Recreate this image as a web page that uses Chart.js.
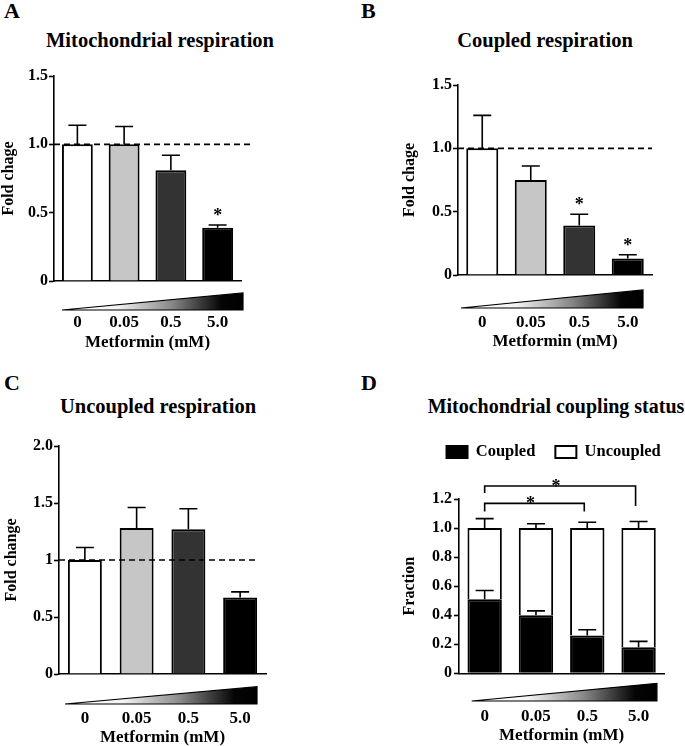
<!DOCTYPE html>
<html>
<head>
<meta charset="utf-8">
<script src="https://cdn.jsdelivr.net/npm/chart.js@4.4.1/dist/chart.umd.min.js"></script>
<style>
  html, body { margin: 0; padding: 0; background: #fff; overflow: hidden; }
  body { width: 685px; height: 746px; position: relative; font-family: 'Liberation Serif', 'Times New Roman', serif; font-weight: bold; color: #000; }
  canvas, .txt { position: absolute; }
  .letter { font-size: 22px; line-height: 22px; }
  .title { font-size: 20.5px; line-height: 20px; width: 400px; text-align: center; white-space: nowrap; }
</style>
</head>
<body>
<div class="txt letter" style="left:4px;top:0px">A</div>
<div class="txt letter" style="left:361px;top:0px">B</div>
<div class="txt letter" style="left:4px;top:372px">C</div>
<div class="txt letter" style="left:361px;top:372px">D</div>
<div class="txt title" style="left:-40px;top:30px">Mitochondrial respiration</div>
<div class="txt title" style="left:345px;top:30px">Coupled respiration</div>
<div class="txt title" style="left:-42px;top:396px">Uncoupled respiration</div>
<div class="txt title" style="left:356px;top:396px;font-size:20px">Mitochondrial coupling status</div>

<canvas id="chartA" width="342" height="370" style="left:0;top:0"></canvas>
<canvas id="chartB" width="343" height="370" style="left:342px;top:0"></canvas>
<canvas id="chartC" width="342" height="380" style="left:0;top:370px"></canvas>
<canvas id="chartD" width="343" height="380" style="left:342px;top:370px"></canvas>

<script>
// values
const doses = ['0', '0.05', '0.5', '5.0'];

const mitoResp = [1.00, 1.00, 0.81, 0.39];
const mitoErr = [0.14, 0.13, 0.11, 0.02];
const mitoStars = [0, 0, 0, 1];

const coupledResp = [1.00, 0.75, 0.39, 0.13];
const coupledErr = [0.26, 0.11, 0.09, 0.03];
const coupledStars = [0, 0, 1, 1];

const uncoupledResp = [1.00, 1.28, 1.27, 0.67];
const uncoupledErr = [0.11, 0.18, 0.18, 0.05];

const fracCoupled = [0.51, 0.40, 0.26, 0.18];
const fracCoupledErr = [0.06, 0.03, 0.04, 0.04];
const fracUncoupled = [0.49, 0.60, 0.74, 0.82];
const fracUncoupledErr = [0.065, 0.03, 0.04, 0.045];
const fracSig = [[0, 2], [0, 3]];

const ticksA = ['0', '0.5', '1.0', '1.5'];
const ticksB = ['0', '0.5', '1.0', '1.5'];
const ticksC = ['0', '0.5', '1', '1.5', '2.0'];
const ticksD = ['0', '0.2', '0.4', '0.6', '0.8', '1.0', '1.2'];

const FONT = "'Liberation Serif', 'Times New Roman', serif";
Chart.defaults.font.family = FONT;
Chart.defaults.font.weight = 'bold';
Chart.defaults.color = '#000';

const fills = ['#ffffff', '#c6c6c6', '#333333', '#000000'];

// error bars (upward only) + significance stars
const errorBars = {
  id: 'errorBars',
  afterDatasetsDraw(chart) {
    const ctx = chart.ctx, y = chart.scales.y;
    chart.data.datasets.forEach((ds, di) => {
      if (!ds.errors) return;
      chart.getDatasetMeta(di).data.forEach((bar, i) => {
        const top = y.getPixelForValue(y.getValueForPixel(bar.y) + ds.errors[i]);
        ctx.save();
        ctx.strokeStyle = '#000';
        ctx.lineWidth = 1.6;
        ctx.beginPath();
        ctx.moveTo(bar.x, bar.y);
        ctx.lineTo(bar.x, top);
        ctx.moveTo(bar.x - 9, top);
        ctx.lineTo(bar.x + 9, top);
        ctx.stroke();
        if (ds.stars && ds.stars[i]) {
          ctx.fillStyle = '#000';
          ctx.font = 'bold 18px ' + FONT;
          ctx.textAlign = 'center';
          ctx.textBaseline = 'alphabetic';
          ctx.fillText('*', bar.x, top - 4);
        }
        ctx.restore();
      });
    });
  }
};

// dashed line at control level
const refLine = {
  id: 'refLine',
  afterDatasetsDraw(chart, args, opts) {
    if (opts.value == null) return;
    const ctx = chart.ctx, a = chart.chartArea;
    const py = chart.scales.y.getPixelForValue(opts.value);
    ctx.save();
    ctx.strokeStyle = '#000';
    ctx.lineWidth = 1.6;
    ctx.setLineDash([6, 4]);
    ctx.beginPath();
    ctx.moveTo(a.left, py);
    ctx.lineTo(a.right + opts.extend, py);
    ctx.stroke();
    ctx.restore();
  }
};

// dose wedge under the x axis
const wedge = {
  id: 'wedge',
  afterDraw(chart, args, o) {
    if (o.l == null) return;
    const ctx = chart.ctx, a = chart.chartArea;
    const x0 = a.left + o.l, x1 = a.right + o.r, y0 = a.bottom + o.t, y1 = a.bottom + o.b;
    const g = ctx.createLinearGradient(x0, 0, x1, 0);
    g.addColorStop(0, '#ffffff');
    g.addColorStop(0.3, '#f4f4f4');
    g.addColorStop(0.6, '#8a8a8a');
    g.addColorStop(0.88, '#050505');
    g.addColorStop(1, '#000000');
    ctx.save();
    ctx.beginPath();
    ctx.moveTo(x0, y1);
    ctx.lineTo(x1, y0);
    ctx.lineTo(x1, y1);
    ctx.closePath();
    ctx.fillStyle = g;
    ctx.fill();
    ctx.strokeStyle = '#000';
    ctx.lineWidth = 1.2;
    ctx.stroke();
    ctx.restore();
  }
};

// significance brackets (panel D)
const brackets = {
  id: 'brackets',
  afterDraw(chart, args, o) {
    if (!o.pairs) return;
    const ctx = chart.ctx, x = chart.scales.x, y = chart.scales.y;
    o.pairs.forEach((p, k) => {
      const xa = x.getPixelForValue(p[0]), xb = x.getPixelForValue(p[1]) - 3;
      const py = y.getPixelForValue(o.levels[k]);
      ctx.save();
      ctx.strokeStyle = '#000';
      ctx.lineWidth = 1.6;
      ctx.beginPath();
      ctx.moveTo(xa, py + o.legs[k][0]);
      ctx.lineTo(xa, py);
      ctx.lineTo(xb, py);
      ctx.lineTo(xb, py + o.legs[k][1]);
      ctx.stroke();
      ctx.fillStyle = '#000';
      ctx.font = 'bold 18px ' + FONT;
      ctx.textAlign = 'center';
      ctx.fillText('*', (xa + xb) / 2 - 4, py + 1);
      ctx.restore();
    });
  }
};

function yAxis(max, step, labels, title, width, tickPad, titlePad) {
  return {
    min: 0, max: max,
    ticks: { stepSize: step, padding: tickPad, font: { size: 16, weight: 'bold' }, callback: (v, i) => labels[i] },
    grid: { drawOnChartArea: false, drawTicks: true, tickLength: 5, tickColor: '#000', tickWidth: 1.6 },
    border: { display: true, color: '#000', width: 1.6 },
    title: { display: true, text: title, font: { size: 16, weight: 'bold' }, padding: { top: titlePad, bottom: 0 } },
    afterFit: s => { s.width = width; }
  };
}

function xAxis(height, tickPad, titlePad) {
  return {
    grid: { display: false, drawTicks: false },
    border: { display: true, color: '#000', width: 1.6 },
    ticks: { padding: tickPad, font: { size: 17, weight: 'bold' } },
    title: { display: true, text: 'Metformin (mM)', font: { size: 17, weight: 'bold' }, padding: { top: 0, bottom: titlePad } },
    afterFit: s => { s.height = height; }
  };
}

function simpleBar(id, values, errors, stars, pad, yOpts, xOpts, barPct, ref, wedgeOpts) {
  new Chart(document.getElementById(id), {
    type: 'bar',
    data: {
      labels: doses,
      datasets: [{
        data: values,
        errors: errors,
        stars: stars,
        backgroundColor: fills,
        borderColor: '#000',
        borderWidth: 2,
        barPercentage: barPct,
        categoryPercentage: 1
      }]
    },
    options: {
      responsive: false,
      animation: false,
      layout: { padding: pad },
      plugins: {
        legend: { display: false },
        tooltip: { enabled: false },
        refLine: ref,
        wedge: wedgeOpts
      },
      scales: { x: xOpts, y: yOpts }
    },
    plugins: [errorBars, refLine, wedge]
  });
}

simpleBar('chartA', mitoResp, mitoErr, mitoStars,
  { left: 0, top: 76, right: 101, bottom: 0 },
  yAxis(1.5, 0.5, ticksA, 'Fold chage', 54, 1, -1),
  xAxis(89, 31.8, 16.8), 0.66,
  { value: 1, extend: 12 }, { l: 8, r: 2, t: 12, b: 29 });

simpleBar('chartB', coupledResp, coupledErr, coupledStars,
  { left: 58, top: 85, right: 33, bottom: 0 },
  yAxis(1.5, 0.5, ticksB, 'Fold chage', 58, 1, 0),
  xAxis(95, 37.8, 17.8), 0.66,
  { value: 1, extend: 0 }, { l: 3, r: -9, t: 15, b: 33 });

simpleBar('chartC', uncoupledResp, uncoupledErr, null,
  { left: 2, top: 76, right: 76, bottom: 0 },
  yAxis(2.0, 0.5, ticksC, 'Fold change', 57, 1, 0),
  xAxis(76, 34.8, 1.8), 0.656,
  { value: 1, extend: -11 }, { l: 6, r: -9, t: 12.7, b: 30 });

// panel D: stacked fractions; legend kept on one row, with room for the brackets below it
const legendSpace = {
  id: 'legendSpace',
  beforeInit(chart) {
    const lg = chart.legend;
    const fit = lg.fit, draw = lg.draw;
    lg.fit = function () {
      this.maxWidth = 1000;
      fit.call(this);
      this.height = 75.3;
    };
    lg.draw = function () {
      const l = this.left, r = this.right;
      this.left = l - 48;
      this.right = r + 32;
      draw.call(this);
      this.left = l;
      this.right = r;
    };
  }
};

new Chart(document.getElementById('chartD'), {
  type: 'bar',
  data: {
    labels: doses,
    datasets: [{
      label: 'Coupled',
      data: fracCoupled,
      errors: fracCoupledErr,
      backgroundColor: '#000',
      borderColor: '#000',
      borderWidth: 2,
      barPercentage: 0.67,
      categoryPercentage: 1
    }, {
      label: 'Uncoupled',
      data: fracUncoupled,
      errors: fracUncoupledErr,
      backgroundColor: '#fff',
      borderColor: '#000',
      borderWidth: 2,
      barPercentage: 0.67,
      categoryPercentage: 1
    }]
  },
  options: {
    responsive: false,
    animation: false,
    layout: { padding: { left: 58, top: 53.75, right: 15, bottom: 0 } },
    plugins: {
      legend: {
        display: true,
        position: 'top',
        fullSize: false,
        labels: { boxWidth: 21, boxHeight: 12, padding: 20, font: { size: 16.5, weight: 'bold' } }
      },
      tooltip: { enabled: false },
      wedge: { l: 12.7, r: -7.3, t: 10, b: 27.7 },
      brackets: { pairs: fracSig, levels: [1.17, 1.29], legs: [[8, 8], [7, 20]] }
    },
    scales: {
      x: Object.assign(xAxis(76.7, 33.2, 3.8), { stacked: true }),
      y: Object.assign(yAxis(1.2, 0.2, ticksD, 'Fraction', 59, 2, 0), { stacked: true })
    }
  },
  plugins: [legendSpace, errorBars, wedge, brackets]
});
</script>
</body>
</html>
